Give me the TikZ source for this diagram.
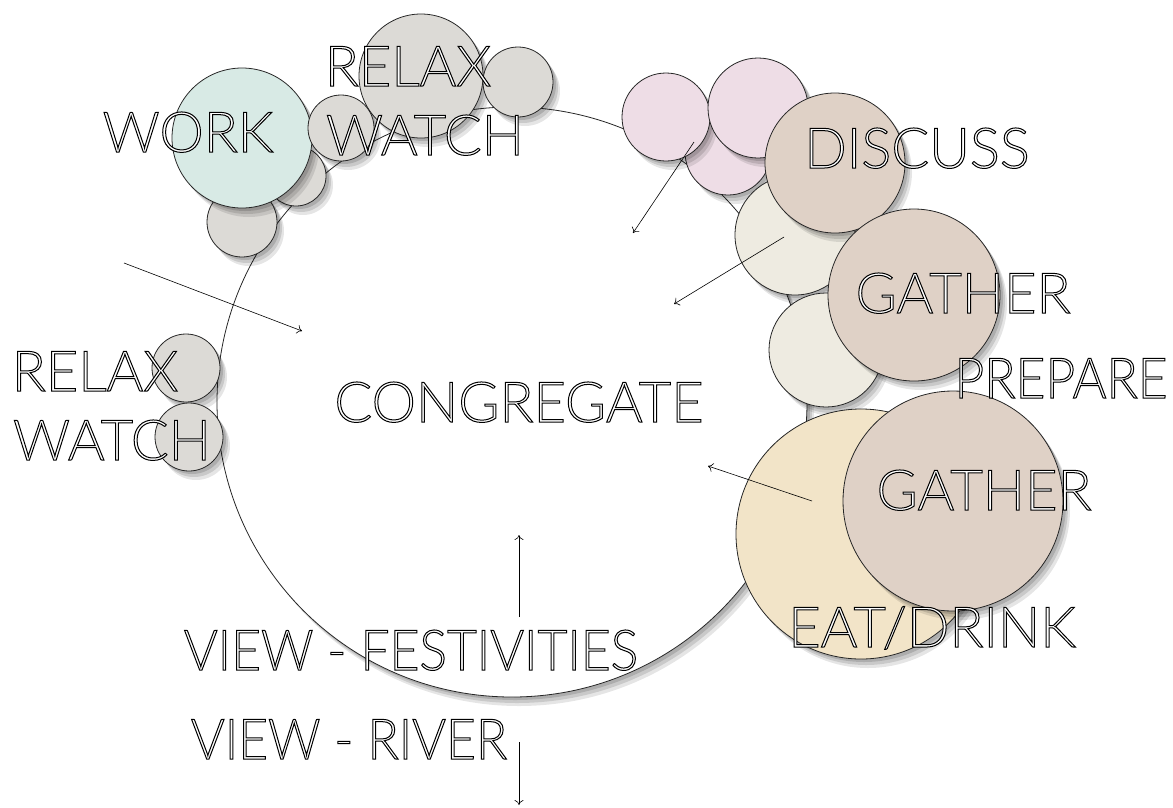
\documentclass[tikz,border=0pt]{standalone}
\usepackage{fontspec}
\IfFontExistsTF{Lato Light}{%
  \newfontfamily\gillish{Lato Light}%
  \newfontfamily\gillnarrow{Lato Light}[FakeStretch=0.92]}{%
  \newfontfamily\gillish{Lato}%
  \newfontfamily\gillnarrow{Lato}[FakeStretch=0.92]}
\usetikzlibrary{shadows,arrows.meta}

\definecolor{stone}{HTML}{DCDAD6}
\definecolor{mint}{HTML}{D8EAE5}
\definecolor{blush}{HTML}{EEDDE6}
\definecolor{taupe}{HTML}{DFD1C6}
\definecolor{linen}{HTML}{EEEBE1}
\definecolor{wheat}{HTML}{F2E4C8}

% hollow lettering: white fill, thin black stroke
\newcommand\hollowon{\fontsize{56}{60}\selectfont\color{white}\special{pdf:literal direct 2 Tr 1 w 0 G}}

\begin{document}
\begin{tikzpicture}[x=1pt,y=-1pt,>={To[length=5pt,width=9pt]},
  bubble/.style={circle,draw=black!85,line width=0.8pt,inner sep=0pt,
    drop shadow={shadow xshift=7pt,shadow yshift=-9pt,opacity=0.10,fill=black},
    drop shadow={shadow xshift=5pt,shadow yshift=-6pt,opacity=0.12,fill=black},
    drop shadow={shadow xshift=3pt,shadow yshift=-3pt,opacity=0.14,fill=black}},
  word/.style={inner sep=0pt,anchor=base,font=\gillish\hollowon,
    execute at end node={\special{pdf:literal direct 0 Tr}}},
  narrowword/.style={word,font=\gillnarrow\hollowon},
  pointer/.style={->,line width=0.6pt}]
\useasboundingbox (0,0) rectangle (1173,807);

% the hub
\node[bubble,fill=white,minimum size=590pt] (hub) at (512,402) {};

% work / relax cluster, top left
\node[bubble,fill=stone,minimum size=60pt]  (s1) at (296,176) {};
\node[bubble,fill=stone,minimum size=70pt]  (s2) at (242,222) {};
\node[bubble,fill=mint,minimum size=140pt]  (work) at (242,138) {};
\node[bubble,fill=stone,minimum size=124pt] (relax) at (421,76) {};
\node[bubble,fill=stone,minimum size=66pt]  (s3) at (341,128) {};
\node[bubble,fill=stone,minimum size=70pt]  (s4) at (518,82) {};

% relax cluster, left
\node[bubble,fill=stone,minimum size=68pt] (l1) at (186,368) {};
\node[bubble,fill=stone,minimum size=68pt] (l2) at (189,437) {};

% discuss / gather, top right
\node[bubble,fill=blush,minimum size=86pt]  (p3) at (728,152) {};
\node[bubble,fill=blush,minimum size=88pt]  (p1) at (666,117) {};
\node[bubble,fill=blush,minimum size=100pt] (p2) at (758,108) {};
\node[bubble,fill=linen,minimum size=120pt] (c1) at (795,235) {};
\node[bubble,fill=taupe,minimum size=140pt] (discuss) at (835,163) {};
\node[bubble,fill=linen,minimum size=114pt] (c2) at (826,350) {};
\node[bubble,fill=taupe,minimum size=172pt] (gather) at (914,295) {};

% eat / gather, bottom right
\node[bubble,fill=wheat,minimum size=250pt] (eat) at (861,534) {};
\node[bubble,fill=taupe,minimum size=220pt] (gather2) at (953,501) {};

% labels
\node[word] (tWork)  at (188,152) {WORK};
\node[word] (tRelax) at (408,86)  {RELAX};
\node[word] (tWatch) at (425,155) {WATCH};
\node[word] (tRelaxL) at (95,391)  {RELAX};
\node[word] (tWatchL) at (112,460) {WATCH};
\node[word] (tDiscuss) at (917,168) {DISCUSS};
\node[word] (tGather)  at (963,313) {GATHER};
\node[narrowword] (tPrepare) at (1061,398) {PREPARE};
\node[word] (tGather2) at (984,510) {GATHER};
\node[word] (tEat)     at (932,647) {EAT/DRINK};
\node[word] (tHub)     at (519,422) {CONGREGATE};
\node[narrowword] (tFest)  at (411,670) {VIEW - FESTIVITIES};
\node[narrowword] (tRiver) at (349,759) {VIEW - RIVER};

% arrows
\coordinate (w0) at (124,263);  \coordinate (w1) at (302,331);
\coordinate (n0) at (694,142);  \coordinate (n1) at (633,233);
\coordinate (e0) at (784,237);  \coordinate (e1) at (674,304);
\coordinate (d0) at (812,501);  \coordinate (d1) at (708,466);
\coordinate (f0) at (519,617);  \coordinate (f1) at (519,535);
\coordinate (r0) at (519,742);  \coordinate (r1) at (519,805);
\draw[pointer] (w0) -- (w1);
\draw[pointer] (n0) -- (n1);
\draw[pointer] (e0) -- (e1);
\draw[pointer] (d0) -- (d1);
\draw[pointer] (f0) -- (f1);
\draw[pointer] (r0) -- (r1);
\end{tikzpicture}
\end{document}
